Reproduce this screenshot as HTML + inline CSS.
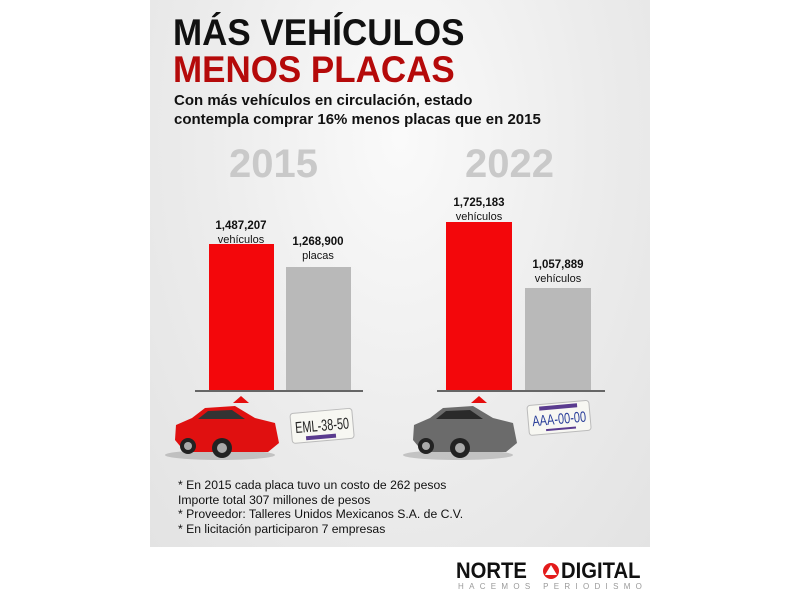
<!DOCTYPE html>
<html><head><meta charset="utf-8"><style>
body{margin:0;width:800px;height:600px;background:#fff;position:relative;overflow:hidden;font-family:"Liberation Sans",sans-serif}
.p{position:absolute}
#panel{left:150px;top:0;width:500px;height:547px;background:radial-gradient(ellipse at 50% 25%,#fafafa 0%,#ececec 55%,#e3e3e3 100%)}
.t{position:absolute;white-space:nowrap;font-weight:bold}
.bar{position:absolute}
.lab{position:absolute;text-align:center;font-size:11px;line-height:14px;color:#111;width:110px}
.lab b{font-size:11.5px}
</style></head><body>
<div id="panel" class="p"></div>
<div class="t" style="left:173px;top:13px;font-size:37px;color:#111;line-height:40px;transform:scaleX(0.945);transform-origin:left">MÁS VEHÍCULOS</div>
<div class="t" style="left:173px;top:50px;font-size:37px;color:#b50a0a;line-height:40px;transform:scaleX(0.945);transform-origin:left">MENOS PLACAS</div>
<div class="t" style="left:174px;top:91px;font-size:15px;line-height:19px;color:#111">Con más vehículos en circulación, estado<br>contempla comprar 16% menos placas que en 2015</div>
<div class="t" style="left:229px;top:142px;font-size:40px;color:#c9c9c9">2015</div>
<div class="t" style="left:465px;top:142px;font-size:40px;color:#c9c9c9">2022</div>

<div class="bar" style="left:209px;top:244px;width:65px;height:147px;background:#f3070b"></div>
<div class="bar" style="left:286px;top:267px;width:65px;height:124px;background:#b9b9b9"></div>
<div class="bar" style="left:446px;top:222px;width:66px;height:169px;background:#f3070b"></div>
<div class="bar" style="left:525px;top:288px;width:66px;height:103px;background:#b9b9b9"></div>
<div class="bar" style="left:195px;top:390px;width:168px;height:2px;background:#666"></div>
<div class="bar" style="left:437px;top:390px;width:168px;height:2px;background:#666"></div>

<div class="lab" style="left:186px;top:219px"><b>1,487,207</b><br>vehículos</div>
<div class="lab" style="left:263px;top:235px"><b>1,268,900</b><br>placas</div>
<div class="lab" style="left:424px;top:196px"><b>1,725,183</b><br>vehículos</div>
<div class="lab" style="left:503px;top:258px"><b>1,057,889</b><br>vehículos</div>

<svg class="p" style="left:0;top:0" width="800" height="600">
<polygon points="233,403 241,396 249,403" fill="#e50d0d"/>
<polygon points="471,403 479,396 487,403" fill="#e50d0d"/>
<g>
<ellipse cx="220" cy="455" rx="55" ry="5" fill="#999" opacity="0.5"/>
<path d="M175,440 L176,425 L192,418 L205,408 L235,406 L255,418 L275,423 L279,443 L268,452 L185,452 Z" fill="#e01010"/>
<path d="M198,419 L208,411 L232,410 L245,419 Z" fill="#333"/>
<circle cx="188" cy="446" r="8" fill="#222"/><circle cx="188" cy="446" r="4" fill="#aaa"/>
<circle cx="222" cy="448" r="10" fill="#222"/><circle cx="222" cy="448" r="5" fill="#aaa"/>
</g>
<g transform="translate(238,0)">
<ellipse cx="220" cy="455" rx="55" ry="5" fill="#999" opacity="0.5"/>
<path d="M175,440 L176,425 L192,418 L205,408 L235,406 L255,418 L275,423 L279,443 L268,452 L185,452 Z" fill="#6b6b6b"/>
<path d="M198,419 L208,411 L232,410 L245,419 Z" fill="#2a2a2a"/>
<circle cx="188" cy="446" r="8" fill="#222"/><circle cx="188" cy="446" r="4" fill="#aaa"/>
<circle cx="222" cy="448" r="10" fill="#222"/><circle cx="222" cy="448" r="5" fill="#aaa"/>
</g>
<g transform="rotate(-5 320 425)">
<rect x="291" y="411" width="62" height="30" rx="3" fill="#f7f7f2" stroke="#bbb"/>
<text x="322" y="431" font-size="16" text-anchor="middle" textLength="54" lengthAdjust="spacingAndGlyphs" fill="#222">EML-38-50</text>
<rect x="305" y="435" width="30" height="4" fill="#5a3b8f"/>
</g>
<g transform="rotate(-5 558 417)">
<rect x="528" y="403" width="62" height="30" rx="3" fill="#f7f7f2" stroke="#bbb"/>
<rect x="540" y="405" width="38" height="4" fill="#5a3b8f"/>
<text x="559" y="424" font-size="15" text-anchor="middle" textLength="54" lengthAdjust="spacingAndGlyphs" fill="#2a3f9a">AAA-00-00</text>
<rect x="545" y="428" width="30" height="2" fill="#5a3b8f"/>
</g>
<circle cx="551" cy="571" r="8" fill="#e31b1b"/>
<polygon points="545,575 551,565 557,575" fill="#fff"/>
</svg>

<div class="p" style="left:178px;top:478px;font-size:12.2px;line-height:14.7px;color:#111">* En 2015 cada placa tuvo un costo de 262 pesos<br>Importe total 307 millones de pesos<br>* Proveedor: Talleres Unidos Mexicanos S.A. de C.V.<br>* En licitación participaron 7 empresas</div>

<div class="t" style="left:456px;top:560px;font-size:22px;line-height:22px;color:#111;transform:scaleX(0.92);transform-origin:left">NORTE</div>
<div class="t" style="left:561px;top:560px;font-size:22px;line-height:22px;color:#111;transform:scaleX(0.92);transform-origin:left">DIGITAL</div>
<div class="t" style="left:458px;top:582px;font-size:8px;letter-spacing:5.3px;color:#9a9a9a;font-weight:normal">HACEMOS PERIODISMO</div>
</body></html>
